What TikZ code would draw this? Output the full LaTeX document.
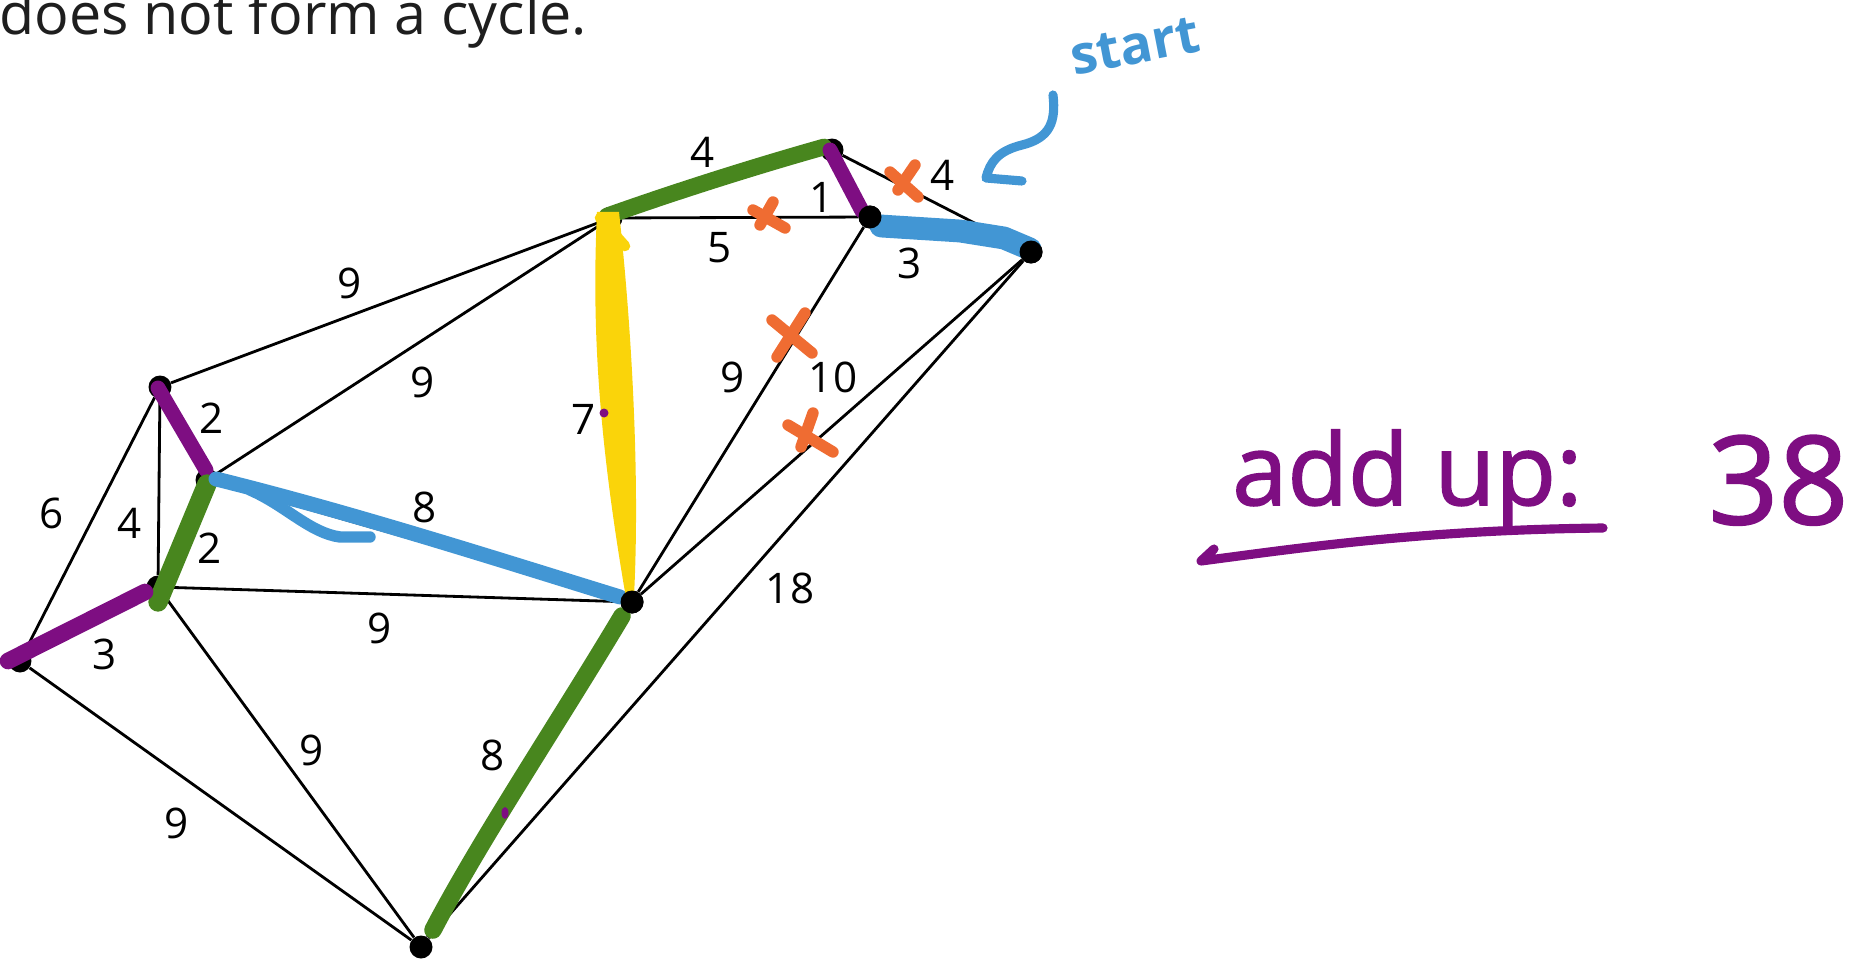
\documentclass[tikz,border=0pt]{standalone}
\usepackage{fontspec}
\setmainfont{Open Sans}
\newfontfamily\handfont{Open Sans}[FakeBold=1.6]
\usetikzlibrary{calc}
\definecolor{hlgreen}{RGB}{72,134,30}
\definecolor{hlpurple}{RGB}{126,14,130}
\definecolor{hlblue}{RGB}{66,150,212}
\definecolor{hlyellow}{RGB}{250,212,10}
\definecolor{hlorange}{RGB}{239,108,50}
\definecolor{inkgray}{RGB}{30,30,30}
\tikzset{
  vtx/.style={circle, fill=black, inner sep=0pt, minimum size=0.46cm},
  edge/.style={line width=1.6pt, black},
  wlabel/.style={font=\fontsize{24}{28}\selectfont, inner sep=0pt, text=black},
  hl/.style={line cap=round, line join=round},
  xmark/.style={hlorange, line width=6.5pt, line cap=round},
  pen/.style={line width=5.2pt, line cap=round, line join=round},
}
\begin{document}
\begin{tikzpicture}[x=0.02cm, y=-0.02cm]
\useasboundingbox (0,0) rectangle (1856,966);

% heading text (cut off at top)
\node[anchor=base west, inner sep=0pt, text=inkgray] (head) at (-1,35)
  {\resizebox{11.76cm}{!}{does not form a cycle.}};

% vertices
\node[vtx] (A) at (160,387) {};
\node[vtx] (B) at (207,480) {};
\node[vtx] (C) at (158,587) {};
\node[vtx] (D) at (20,661) {};
\node[vtx] (E) at (611,218) {};
\node[vtx] (F) at (832,150) {};
\node[vtx] (G) at (870,217) {};
\node[vtx] (H) at (1031,252) {};
\node[vtx] (I) at (632,602) {};
\node[vtx] (J) at (421,947) {};

% edges
\foreach \u/\v in {A/E,A/B,A/C,A/D,B/E,B/I,B/C,C/D,C/I,C/J,D/J,E/F,E/G,E/I,F/G,F/H,G/H,G/I,H/I,H/J,I/J}
  \draw[edge] (\u) -- (\v);

% highlight strokes
\draw[hl, hlgreen, line width=9.5pt] (607,216) .. controls (680,190) and (760,165) .. (824,147);
\draw[hl, hlpurple, line width=8.5pt] (830,150) -- (862,211);
\draw[hl, hlblue, line width=13pt] (881,226) -- (960,231) -- (1004,238) -- (1030,249);
\draw[hl, hlpurple, line width=8.5pt] (158,388) -- (206,470);
\draw[hl, hlgreen, line width=11pt] (207,484) -- (158,602);
\draw[hl, hlpurple, line width=9.5pt] (145,592) -- (8,661);
\draw[hl, hlblue, line width=8.5pt] (216,479) .. controls (350,512) and (500,560) .. (620,597);
\draw[hl, hlblue, line width=6.5pt] (250,490) .. controls (285,505) and (310,533) .. (340,537) -- (370,537);
\fill[hlyellow] (597,212) .. controls (592,320) and (597,430) .. (626,598) -- (634,596)
  .. controls (640,480) and (632,330) .. (619,212) -- cycle;
\draw[hl, hlyellow, line width=6pt] (600,218) -- (625,246);
\draw[hl, hlgreen, line width=10pt] (622,616) .. controls (560,720) and (480,840) .. (433,930);
\fill[hlpurple] (604,413) circle (4.5);
\fill[hlpurple] (505,813) ellipse (3.5 and 6);
\node[vtx] at (I) {};
\node[vtx] at (G) {};
\node[vtx] at (H) {};

% rejected edges
\draw[xmark] (753,210) -- (785,228);
\draw[xmark] (773,202) -- (760,225);
\draw[xmark] (890,172) -- (918,197);
\draw[xmark] (915,165) -- (898,190);
\draw[xmark] (772,320) -- (812,353);
\draw[xmark] (805,313) -- (777,357);
\draw[xmark] (788,425) -- (833,452);
\draw[xmark] (813,413) -- (801,447);

% weights
\node[wlabel] (w1) at (703,152) {4};
\node[wlabel] (w2) at (822,197) {1};
\node[wlabel] (w3) at (943,175) {4};
\node[wlabel] (w4) at (720,248) {5};
\node[wlabel] (w5) at (910,263) {3};
\node[wlabel] (w6) at (350,283) {9};
\node[wlabel] (w7) at (423,382) {9};
\node[wlabel] (w8) at (584,419) {7};
\node[wlabel] (w9) at (733,377) {9};
\node[wlabel] (w10) at (833,377) {10};
\node[wlabel] (w11) at (790,588) {18};
\node[wlabel] (w12) at (212,418) {2};
\node[wlabel] (w13) at (52,513) {6};
\node[wlabel] (w14) at (130,523) {4};
\node[wlabel] (w15) at (210,548) {2};
\node[wlabel] (w16) at (425,507) {8};
\node[wlabel] (w17) at (380,628) {9};
\node[wlabel] (w18) at (105,654) {3};
\node[wlabel] (w19) at (312,750) {9};
\node[wlabel] (w20) at (493,755) {8};
\node[wlabel] (w21) at (177,823) {9};

% start annotation
\node[inner sep=0pt, text=hlblue, rotate=11] (start) at (1135,46)
  {\resizebox{2.6cm}{!}{\bfseries start}};
\draw[pen, hlblue] (1053,95) .. controls (1056,122) and (1050,138) .. (1022,145)
  .. controls (998,151) and (990,162) .. (986,178) -- (1022,181);

% total
\node[anchor=base west, inner sep=0pt, text=hlpurple] (addup) at (1232,505)
  {\resizebox{7.0cm}{!}{\handfont add up:}};
\node[anchor=base west, inner sep=0pt, text=hlpurple] (total) at (1708,524)
  {\resizebox{2.8cm}{!}{\handfont 38}};
\draw[pen, hlpurple] (1214,549) -- (1201,561) .. controls (1300,548) and (1420,530) .. (1603,528);
\end{tikzpicture}
\end{document}
